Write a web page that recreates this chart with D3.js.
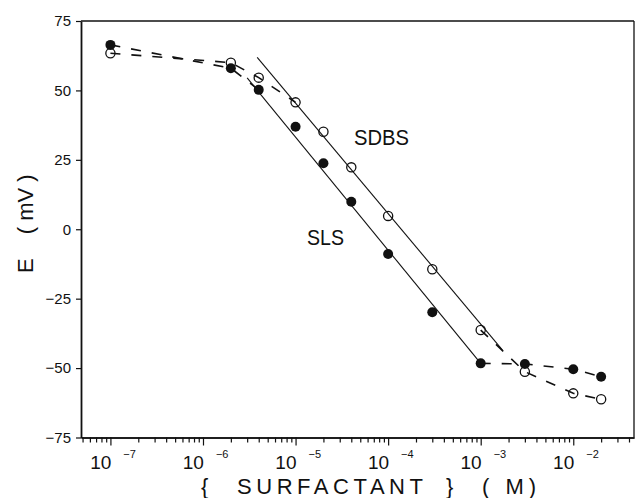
<!DOCTYPE html>
<html>
<head>
<meta charset="utf-8">
<script src="https://cdn.jsdelivr.net/npm/d3@7"></script>
<style>
  html, body { margin: 0; padding: 0; background: #fff; }
  svg { display: block; font-family: "Liberation Sans", Arial, sans-serif; }
</style>
</head>
<body>
<svg id="chart" width="636" height="498"></svg>
<script>
// ---- data ----
const concentrations = [1e-7, 2e-6, 4e-6, 1e-5, 2e-5, 4e-5, 1e-4, 3e-4, 1e-3, 3e-3, 1e-2, 2e-2];
const slsE  = [66.4, 58.0, 50.2, 36.9, 23.8, 9.9, -8.9, -29.9, -48.3, -48.5, -50.4, -53.1];
const sdbsE = [63.4, 60.0, 54.6, 45.7, 35.1, 22.3, 4.8, -14.4, -36.3, -51.3, -59.1, -61.2];
// index ranges joined by dashed lines (plateau regions)
const slsDashed  = [[0, 2], [8, 11]];
const sdbsDashed = [[0, 3], [8, 11]];
// straight (Nernstian) fit lines: [concentration, E]
const slsFit  = [[3.0e-6, 54.5], [1e-3, -48.3]];
const sdbsFit = [[3.85e-6, 61.9], [1.72e-3, -43.5]];
// axis ticks
const xMajorTicks = [1e-7, 1e-6, 1e-5, 1e-4, 1e-3, 1e-2];
const xExponents  = ["−7", "−6", "−5", "−4", "−3", "−2"];
const yTicks = [75, 50, 25, 0, -25, -50, -75];
const seriesLabels = ["SDBS", "SLS"];

// ---- layout ----
const svg = d3.select("#chart");
const L = 81, R = 634, T = 21, B = 437.5;
const ink = "#111";

const x = d3.scaleLog().domain([4.81e-8, 0.0453]).range([L, R]);
const y = d3.scaleLinear().domain([-75, 75]).range([B, T]);

// minor ticks within domain
const xMinorTicks = [];
for (let e = -8; e <= -2; e++) {
  for (let k = 2; k <= 9; k++) {
    const v = k * Math.pow(10, e);
    if (v >= x.domain()[0] && v <= x.domain()[1]) xMinorTicks.push(v);
  }
}

// frame (top and right)
svg.append("line").attr("x1", L).attr("x2", R).attr("y1", T).attr("y2", T)
  .attr("stroke", ink).attr("stroke-width", 1.3);
svg.append("line").attr("x1", R).attr("x2", R).attr("y1", T).attr("y2", B)
  .attr("stroke", ink).attr("stroke-width", 1.3);

// x axis minor
const gxMinor = svg.append("g").attr("transform", `translate(0,${B})`)
  .call(d3.axisBottom(x).tickValues(xMinorTicks).tickSize(5).tickSizeOuter(0).tickFormat(""));
// x axis major
const gx = svg.append("g").attr("transform", `translate(0,${B})`)
  .call(d3.axisBottom(x).tickValues(xMajorTicks).tickSize(8).tickSizeOuter(0).tickFormat(""));
[gxMinor, gx].forEach(g => {
  g.select(".domain").attr("stroke", ink).attr("stroke-width", 1.6);
  g.selectAll(".tick line").attr("stroke", ink).attr("stroke-width", 1.2);
});
gx.selectAll(".tick").each(function(d, i) {
  const t = d3.select(this).append("text")
    .attr("x", -20.7).attr("y", 31)
    .attr("text-anchor", "start")
    .attr("fill", ink)
    .attr("font-size", 19);
  t.append("tspan").text("10");
  t.append("tspan").attr("dx", 12).attr("dy", -11).attr("font-size", 11).text(xExponents[i]);
});

// y axis
const gy = svg.append("g").attr("transform", `translate(${L},0)`)
  .call(d3.axisLeft(y).tickValues(yTicks).tickSize(5).tickSizeOuter(0).tickPadding(5));
gy.select(".domain").attr("stroke", ink).attr("stroke-width", 1.8);
gy.selectAll(".tick line").attr("stroke", ink).attr("stroke-width", 1.2);
gy.selectAll(".tick text").attr("font-size", 15).attr("fill", ink)
  .attr("font-family", "Liberation Sans, Arial, sans-serif");

// axis titles
svg.append("text").attr("x", 201).attr("y", 494).attr("font-size", 22).attr("fill", ink).text("{");
svg.append("text").attr("x", 237).attr("y", 494).attr("font-size", 22).attr("fill", ink)
  .attr("textLength", 186).attr("lengthAdjust", "spacing").text("SURFACTANT");
svg.append("text").attr("x", 446).attr("y", 494).attr("font-size", 22).attr("fill", ink).text("}");
svg.append("text").attr("x", 482).attr("y", 494).attr("font-size", 22).attr("fill", ink)
  .attr("textLength", 54).attr("lengthAdjust", "spacing").text("( M)");

const yt = svg.append("text").attr("transform", "translate(33,273) rotate(-90)")
  .attr("font-size", 22).attr("fill", ink);
yt.append("tspan").text("E");
yt.append("tspan").attr("dx", 24).text("( mV )");

// lines
const line = d3.line().x(d => x(d[0])).y(d => y(d[1]));
function dashed(values, ranges) {
  ranges.forEach(([a, b]) => {
    const pts = d3.range(a, b + 1).map(i => [concentrations[i], values[i]]);
    svg.append("path").attr("d", line(pts)).attr("fill", "none")
      .attr("stroke", ink).attr("stroke-width", 1.6).attr("stroke-dasharray", "10,11");
  });
}
dashed(slsE, slsDashed);
dashed(sdbsE, sdbsDashed);
[slsFit, sdbsFit].forEach(f => {
  svg.append("path").attr("d", line(f)).attr("fill", "none")
    .attr("stroke", ink).attr("stroke-width", 1.1);
});

// markers
svg.append("g").selectAll("circle").data(concentrations).join("circle")
  .attr("cx", d => x(d)).attr("cy", (d, i) => y(sdbsE[i])).attr("r", 4.6)
  .attr("fill", "none").attr("stroke", ink).attr("stroke-width", 1.3);
svg.append("g").selectAll("circle").data(concentrations).join("circle")
  .attr("cx", d => x(d)).attr("cy", (d, i) => y(slsE[i])).attr("r", 5)
  .attr("fill", ink);

// series labels
svg.append("text").attr("x", 354).attr("y", 145).attr("font-size", 22).attr("fill", ink)
  .attr("textLength", 55).attr("lengthAdjust", "spacingAndGlyphs").text(seriesLabels[0]);
svg.append("text").attr("x", 307).attr("y", 245).attr("font-size", 22).attr("fill", ink)
  .attr("textLength", 37).attr("lengthAdjust", "spacingAndGlyphs").text(seriesLabels[1]);
</script>
</body>
</html>
